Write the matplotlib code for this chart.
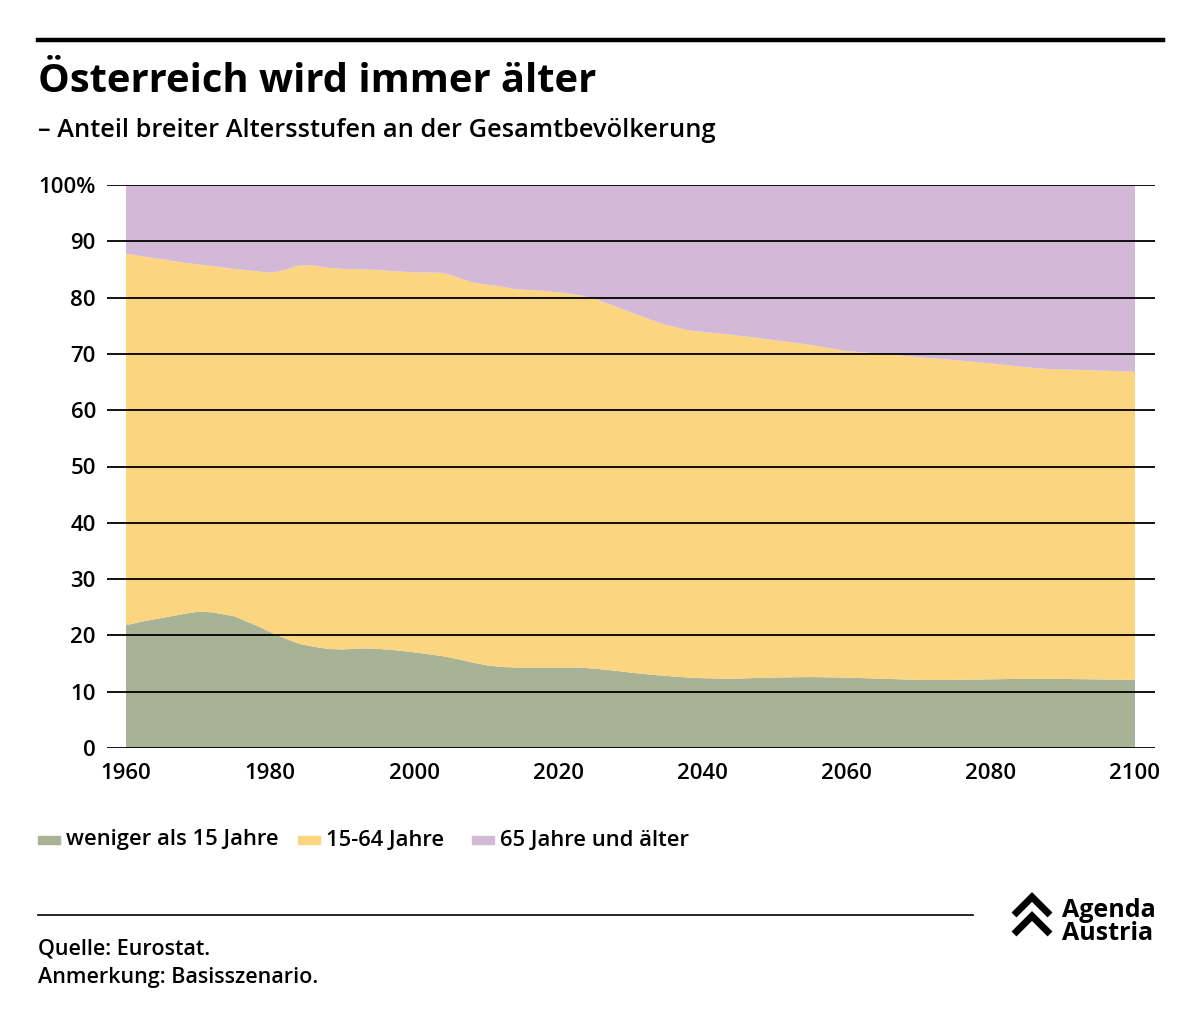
import matplotlib.pyplot as plt
from matplotlib.lines import Line2D
from matplotlib.patches import Rectangle

plt.rcParams["font.family"] = ["Open Sans", "DejaVu Sans"]

# ---------------------------
# Data (share of population, %)
# ---------------------------
years = [1960, 1962, 1965, 1968, 1970, 1972, 1975, 1978, 1980, 1982, 1984, 1986,
         1988, 1990, 1993, 1995, 1997, 2000, 2004, 2006, 2008, 2010, 2012, 2014,
         2018, 2021, 2023, 2025, 2028, 2030, 2033, 2035, 2038, 2040, 2044, 2049,
         2055, 2060, 2065, 2070, 2075, 2080, 2085, 2088, 2094, 2100]
young = [21.8, 22.4, 23.1, 23.8, 24.2, 24.1, 23.4, 21.8, 20.6, 19.5, 18.5, 18.0,
         17.6, 17.5, 17.7, 17.6, 17.4, 17.0, 16.3, 15.8, 15.2, 14.7, 14.4, 14.3,
         14.3, 14.3, 14.3, 14.1, 13.7, 13.4, 13.0, 12.8, 12.5, 12.4, 12.3, 12.5,
         12.6, 12.5, 12.3, 12.1, 12.1, 12.2, 12.3, 12.3, 12.2, 12.1]
working = [66.0, 65.0, 63.7, 62.4, 61.7, 61.5, 61.7, 62.9, 63.8, 65.4, 67.2, 67.7,
           67.7, 67.6, 67.3, 67.3, 67.3, 67.5, 68.1, 67.8, 67.5, 67.6, 67.6, 67.2,
           66.9, 66.5, 66.1, 65.7, 64.7, 64.0, 63.0, 62.3, 61.7, 61.5, 61.1, 60.1,
           59.0, 58.0, 57.7, 57.3, 56.8, 56.1, 55.3, 55.0, 54.9, 54.7]
old = [12.2, 12.6, 13.2, 13.8, 14.1, 14.4, 14.9, 15.3, 15.6, 15.1, 14.3, 14.3,
       14.7, 14.9, 15.0, 15.1, 15.3, 15.5, 15.6, 16.4, 17.3, 17.7, 18.0, 18.5,
       18.8, 19.2, 19.6, 20.2, 21.6, 22.6, 24.0, 24.9, 25.8, 26.1, 26.6, 27.4,
       28.4, 29.5, 30.0, 30.6, 31.1, 31.7, 32.4, 32.7, 32.9, 33.2]

labels = ["weniger als 15 Jahre", "15-64 Jahre", "65 Jahre und älter"]
colors = ["#a8b294", "#fbd580", "#d3b9d7"]
y_ticks = [0, 10, 20, 30, 40, 50, 60, 70, 80, 90, 100]
y_labels = ["0", "10", "20", "30", "40", "50", "60", "70", "80", "90", "100%"]
x_ticks = [1960, 1980, 2000, 2020, 2040, 2060, 2080, 2100]

W, H = 1200, 1026


def fx(px):
    return px / W


def fy(py):
    return 1 - py / H


fig = plt.figure(figsize=(W / 100, H / 100), dpi=100)

# ---------------------------
# Chart area
# ---------------------------
ax = fig.add_axes([fx(107), fy(748), fx(1155) - fx(107), fy(185) - fy(748)])
ax.stackplot(years, young, working, old, colors=colors, linewidth=0, zorder=1)
for t in y_ticks:
    ax.axhline(t, color="black", lw=1.3, zorder=3)

ax.set_xlim(1960 - 19 / 7.207, 2100 + 20 / 7.207)
ax.set_ylim(0, 100)
for s in ax.spines.values():
    s.set_visible(False)
ax.set_yticks(y_ticks)
ax.set_yticklabels(y_labels)
ax.set_xticks(x_ticks)
ax.tick_params(axis="y", length=0, pad=8, labelsize=16)
ax.tick_params(axis="x", length=0, pad=11, labelsize=16)
for lab in ax.get_xticklabels() + ax.get_yticklabels():
    lab.set_fontweight("semibold")

# ---------------------------
# Title / subtitle
# ---------------------------
fig.add_artist(Line2D([fx(38), fx(1163)], [fy(40), fy(40)], color="black", lw=3.2))
fig.text(fx(38), fy(92), "Österreich wird immer älter", fontsize=28.7,
         fontweight="bold", va="baseline")
fig.text(fx(38), fy(137), "– Anteil breiter Altersstufen an der Gesamtbevölkerung",
         fontsize=18.3, fontweight="semibold", va="baseline")

# ---------------------------
# Legend
# ---------------------------
leg_x = [38, 298, 472]
for x0, lab, col in zip(leg_x, labels, colors):
    fig.add_artist(Rectangle((fx(x0), fy(844)), fx(22), fy(836) - fy(844),
                             color=col, transform=fig.transFigure))
    fig.text(fx(x0 + 28), fy(840), lab, fontsize=15.8, fontweight="semibold",
             va="center")

# ---------------------------
# Footer
# ---------------------------
fig.add_artist(Line2D([fx(38), fx(973)], [fy(915), fy(915)], color="black", lw=1.2))
fig.text(fx(38), fy(955), "Quelle: Eurostat.", fontsize=15.5, fontweight="semibold",
         va="baseline")
fig.text(fx(38), fy(983), "Anmerkung: Basisszenario.", fontsize=15.5,
         fontweight="semibold", va="baseline")

# logo
for top in (897, 916):
    fig.add_artist(Line2D([fx(1014), fx(1032), fx(1050)],
                          [fy(top + 18), fy(top), fy(top + 18)],
                          color="black", lw=5, solid_joinstyle="miter",
                          solid_capstyle="butt"))
fig.text(fx(1062), fy(922), "Agenda\nAustria", fontsize=18, fontweight="bold",
         va="center", linespacing=0.85)

fig.savefig("out.png", dpi=100)
